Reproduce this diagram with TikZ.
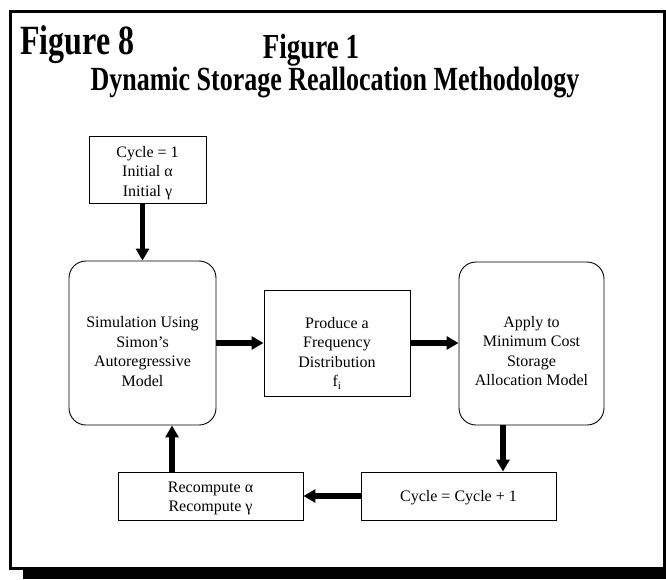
\documentclass[tikz,border=0pt]{standalone}
\usepackage{fontspec}
\setmainfont{Liberation Serif}
\usetikzlibrary{arrows.meta}
% extra room above the first line of a box text
\newcommand\headroom[1]{\rule{0pt}{#1}}
% tall, narrow heading lettering
\newcommand\tallbold[1]{\scalebox{1}[1.3]{#1}}
\begin{document}
\begin{tikzpicture}[x=1pt,y=-1pt,
  box/.style={draw, line width=0.9pt, align=center, inner sep=0pt,
    font=\fontsize{16}{19.5}\selectfont},
  roundbox/.style={box, rounded corners=17pt},
  flow/.style={line width=5.5pt, -{Triangle[length=12pt,width=13pt]}},
  heading/.style={font=\bfseries, inner sep=0pt, anchor=base}]
\useasboundingbox (0,0) rectangle (666,579);

% outer frame with drop shadow
\draw[line width=3pt] (10.5,11.5) rectangle (664.5,568.5);
\fill (23,568) rectangle (666,579);
\fill (663,11) rectangle (666,579);

% headings
\node[heading, anchor=base west, font=\fontsize{32}{36}\bfseries\selectfont] (fig8) at (20,54) {\tallbold{Figure 8}};
\node[heading, font=\fontsize{27}{30}\bfseries\selectfont] (fig1) at (311,58) {\tallbold{Figure 1}};
\node[heading, font=\fontsize{26}{30}\bfseries\selectfont] (title) at (335,90) {\tallbold{Dynamic Storage Reallocation Methodology}};

% process boxes
\node[box, minimum width=117pt, minimum height=67pt] (init) at (147.5,169.5)
  {\headroom{18pt}Cycle = 1\\Initial α\\Initial γ};
\node[roundbox, minimum width=147pt, minimum height=164pt] (sim) at (142.5,343)
  {\headroom{28pt}Simulation Using\\Simon’s\\Autoregressive\\Model};
\node[box, minimum width=146pt, minimum height=106pt] (freq) at (337,343)
  {\headroom{32pt}Produce a\\Frequency\\Distribution\\f\textsubscript{i}};
\node[roundbox, minimum width=145pt, minimum height=163pt] (alloc) at (531.5,343.5)
  {\headroom{26pt}Apply to\\Minimum Cost\\Storage\\Allocation Model};
\node[box, minimum width=195pt, minimum height=48pt] (cyc) at (458.5,496)
  {\headroom{15pt}Cycle = Cycle + 1};
\node[box, minimum width=185pt, minimum height=48pt] (rec) at (210.5,496)
  {\headroom{15pt}Recompute α\\Recompute γ};

% connectors
\draw[flow] (sim.north |- init.south) -- (sim.north);
\draw[flow] (sim.east |- freq.west) -- (freq.west);
\draw[flow] (freq.east) -- (freq.east -| alloc.west);
\draw[flow] ([xshift=-28.5pt]alloc.south) -- ([xshift=-28.5pt]alloc.south |- cyc.north);
\draw[flow] (cyc.west) -- (rec.east);
\draw[flow] ([xshift=-38.5pt]rec.north) -- ([xshift=-38.5pt]rec.north |- sim.south);
\end{tikzpicture}
\end{document}
